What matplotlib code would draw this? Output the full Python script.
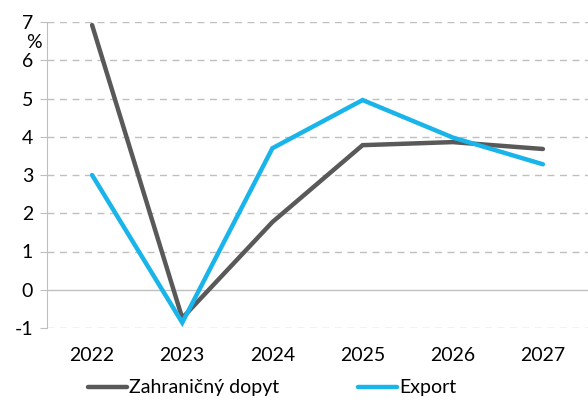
import matplotlib
matplotlib.use('Agg')
from matplotlib import pyplot as plt
import numpy as np

# Dáta
roky = ['2022', '2023', '2024', '2025', '2026', '2027']
zahranicny_dopyt = [6.92, -0.74, 1.77, 3.78, 3.86, 3.68]
export = [3.0, -0.86, 3.70, 4.96, 3.98, 3.28]

plt.rcParams['font.family'] = ['Lato', 'DejaVu Sans']
plt.rcParams['axes.unicode_minus'] = False

fig = plt.figure(figsize=(5.88, 4.03), dpi=100)
ax = fig.add_axes([47/588, 1 - 328/403, 541/588, 306/403])

x = np.arange(len(roky))
ax.plot(x, zahranicny_dopyt, color='#595959', linewidth=3.2, label='Zahraničný dopyt',
        solid_capstyle='round', solid_joinstyle='miter')
ax.plot(x, export, color='#18B4EA', linewidth=3.2, label='Export',
        solid_capstyle='round', solid_joinstyle='miter')

ax.set_xlim(-0.5, len(roky) - 0.5)
ax.set_ylim(-1, 7)
ax.set_yticks(range(-1, 8))
ax.set_xticks(x, roky)

# Mriežka
for v in range(-1, 8):
    if v == 0:
        ax.axhline(v, color='#BFBFBF', linewidth=1, zorder=0)
    else:
        ax.axhline(v, color='#BFBFBF', linewidth=1, linestyle=(0, (5, 4)), zorder=0)

for s in ['top', 'right', 'bottom']:
    ax.spines[s].set_visible(False)
ax.spines['left'].set_color('#BFBFBF')
ax.tick_params(axis='y', length=5, color='#BFBFBF', labelsize=14, pad=5)
ax.tick_params(axis='x', length=0, labelsize=14, pad=14)

fig.text(34/588, 1 - 42/403, '%', fontsize=14, ha='center', va='center')

ax.legend(loc='center', bbox_to_anchor=(272/588, 1 - 388/403), bbox_transform=fig.transFigure,
          ncol=2, frameon=False, fontsize=14, handlelength=2.0, handletextpad=0.1,
          columnspacing=4.1)

fig.savefig('out.png', dpi=100)
